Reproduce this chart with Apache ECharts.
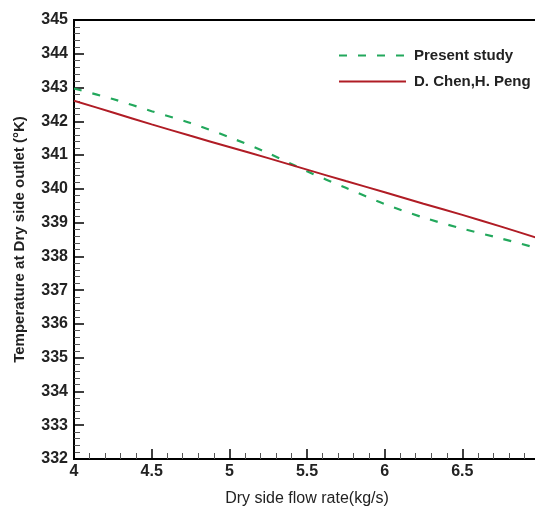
<!DOCTYPE html>
<html>
<head>
<meta charset="utf-8">
<script src="https://cdn.jsdelivr.net/npm/echarts@6/dist/echarts.min.js"></script>
<style>html,body{margin:0;padding:0;background:#fff}#c{width:535px;height:507px}</style>
</head>
<body>
<div id="c"></div>
<script>
var flowRate = [4, 4.25, 4.5, 4.75, 5, 5.25, 5.5, 5.75, 6, 6.25, 6.5, 6.75, 7];
var presentStudy = [342.97, 342.66, 342.3, 341.95, 341.53, 341.06, 340.52, 340.03, 339.55, 339.15, 338.82, 338.53, 338.22];
var chenPeng = [342.61, 342.26, 341.91, 341.57, 341.24, 340.91, 340.57, 340.23, 339.9, 339.56, 339.23, 338.88, 338.52];
var seriesNames = ['Present study', 'D. Chen,H. Peng'];
var xTitle = 'Dry side flow rate(kg/s)';
var yTitle = 'Temperature at Dry side outlet (°K)';

function pairs(xs, ys) { return xs.map(function (x, i) { return [x, ys[i]]; }); }

var chart = echarts.init(document.getElementById('c'), null, { renderer: 'canvas' });
var font = '"Liberation Sans", Arial, sans-serif';
chart.setOption({
  animation: false,
  backgroundColor: '#fff',
  grid: { left: 74, top: 20, width: 466, height: 439, show: true, borderColor: '#000', borderWidth: 2, backgroundColor: 'transparent', containLabel: false, outerBoundsMode: 'none' },
  legend: {
    orient: 'vertical', left: 333, top: 43,
    itemWidth: 67, itemHeight: 14, itemGap: 11,
    itemStyle: { opacity: 0 },
    textStyle: { fontFamily: font, fontWeight: 'bold', fontSize: 15, color: '#222', padding: [0, 0, 0, 3] },
    data: seriesNames
  },
  xAxis: {
    type: 'value', min: 4, max: 7, interval: 0.5,
    name: xTitle, nameLocation: 'middle', nameGap: 32,
    nameTextStyle: { fontFamily: font, fontSize: 16, color: '#222' },
    axisLine: { lineStyle: { color: '#000', width: 2 } },
    axisTick: { inside: true, length: 10, lineStyle: { color: '#000', width: 1.5 } },
    minorTick: { show: true, splitNumber: 5, length: 6, lineStyle: { color: '#555', width: 1 } },
    splitLine: { show: false },
    axisLabel: { fontFamily: font, fontWeight: 'bold', fontSize: 16, color: '#222', margin: 5, showMaxLabel: false }
  },
  yAxis: {
    type: 'value', min: 332, max: 345, interval: 1,
    name: yTitle, nameLocation: 'middle', nameGap: 47,
    nameTextStyle: { fontFamily: font, fontWeight: 'bold', fontSize: 15, color: '#222' },
    axisLine: { lineStyle: { color: '#000', width: 2 } },
    axisTick: { inside: true, length: 10, lineStyle: { color: '#000', width: 1.5 } },
    minorTick: { show: true, splitNumber: 5, length: 6, lineStyle: { color: '#555', width: 1 } },
    splitLine: { show: false },
    axisLabel: { fontFamily: font, fontWeight: 'bold', fontSize: 16, color: '#222', margin: 6 }
  },
  series: [
    {
      name: seriesNames[0], type: 'line', data: pairs(flowRate, presentStudy),
      smooth: 0.3, symbol: 'none', clip: true,
      lineStyle: { color: '#22a85c', width: 2.2, type: [8, 11] },
      itemStyle: { color: '#22a85c' }
    },
    {
      name: seriesNames[1], type: 'line', data: pairs(flowRate, chenPeng),
      smooth: 0.3, symbol: 'none', clip: true,
      lineStyle: { color: '#b01c25', width: 2 },
      itemStyle: { color: '#b01c25' }
    }
  ]
});
</script>
</body>
</html>
